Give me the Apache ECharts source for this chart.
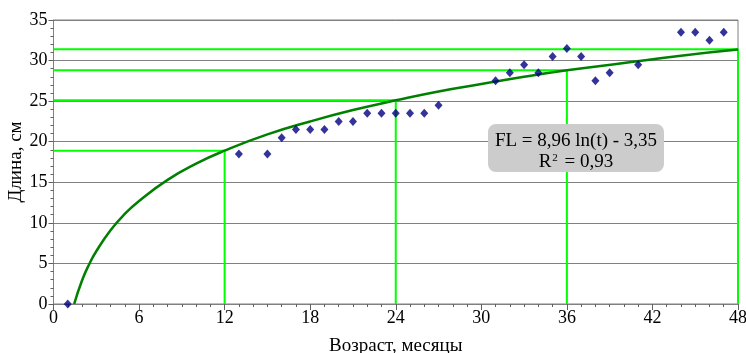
<!DOCTYPE html>
<html><head><meta charset="utf-8">
<script src="https://cdn.jsdelivr.net/npm/echarts@6/dist/echarts.min.js"></script>
<style>html,body{margin:0;padding:0;background:#fff}#c{width:746px;height:353px}</style>
</head><body><div id="c"></div>
<script>
// Observed data (age in months, length in cm)
const ageMonths = [1, 13, 15, 16, 17, 18, 19, 20, 21, 22, 23, 24, 25, 26, 27, 31, 32, 33, 34, 35, 36, 37, 38, 39, 41, 44, 45, 46, 47];
const lengthCm  = [0, 18.5, 18.5, 20.5, 21.5, 21.5, 21.5, 22.5, 22.5, 23.5, 23.5, 23.5, 23.5, 23.5, 24.5, 27.5, 28.5, 29.5, 28.5, 30.5, 31.5, 30.5, 27.5, 28.5, 29.5, 33.5, 33.5, 32.5, 33.5];
// Logarithmic trend line
const trendT  = [1.45, 2, 2.5, 3, 4, 5, 6, 8, 10, 12, 15, 18, 21, 24, 27, 30, 33, 36, 40, 44, 48];
const trendFL = [0, 2.9, 4.9, 6.5, 9.1, 11.1, 12.7, 15.3, 17.3, 18.9, 20.9, 22.5, 23.9, 25.1, 26.2, 27.1, 28.0, 28.8, 29.7, 30.6, 31.35];
// Guide lines (age, trend length)
const guideT  = [12, 24, 36, 48];
const guideFL = [18.9, 25.1, 28.8, 31.4];
const equationText = 'FL = 8,96 ln(t) - 3,35';
const r2Text = '0,93';

const font = '"Liberation Serif", "Times New Roman", serif';
const guideData = [];
guideT.forEach((t, i) => {
  guideData.push([0, guideFL[i]], [t, guideFL[i]], [t, 0], '-');
});

const chart = echarts.init(document.getElementById('c'), null, {renderer: 'canvas'});
chart.setOption({
  animation: false,
  backgroundColor: '#fff',
  grid: {left: 53.5, right: 8, top: 20, bottom: 49, outerBoundsMode: 'none', containLabel: false,
         show: true, borderColor: '#808080', borderWidth: 1, backgroundColor: 'transparent'},
  xAxis: {
    type: 'value', min: 0, max: 48, interval: 6,
    name: 'Возраст, месяцы', nameLocation: 'middle', nameGap: 33, nameMoveOverlap: false,
    nameTextStyle: {fontFamily: font, fontSize: 19, color: '#000'},
    axisLine: {show: true, onZero: false, lineStyle: {color: '#808080', width: 1}},
    axisTick: {show: true, length: 6, lineStyle: {color: '#606060'}},
    minorTick: {show: true, splitNumber: 6, length: 3, lineStyle: {color: '#606060'}},
    axisLabel: {fontFamily: font, fontSize: 18, color: '#000', margin: 5},
    splitLine: {show: false}
  },
  yAxis: {
    type: 'value', min: 0, max: 35, interval: 5,
    name: 'Длина, см', nameLocation: 'middle', nameGap: 28, nameRotate: 90, nameMoveOverlap: false,
    nameTextStyle: {fontFamily: font, fontSize: 19, color: '#000'},
    axisLine: {show: true, onZero: false, lineStyle: {color: '#808080', width: 1}},
    axisTick: {show: true, length: 5, lineStyle: {color: '#606060'}},
    minorTick: {show: true, splitNumber: 5, length: 3, lineStyle: {color: '#606060'}},
    axisLabel: {fontFamily: font, fontSize: 18, color: '#000', margin: 6},
    splitLine: {show: true, lineStyle: {color: '#808080', width: 1}}
  },
  series: [
    {
      type: 'line', data: guideData, connectNulls: false, symbol: 'none',
      lineStyle: {color: '#00ff00', width: 2}, z: 2, silent: true
    },
    {
      type: 'line', data: trendT.map((t, i) => [t, trendFL[i]]), smooth: true, symbol: 'none',
      lineStyle: {color: '#008000', width: 2.5}, z: 3, silent: true
    },
    {
      type: 'scatter', data: ageMonths.map((t, i) => [t, lengthCm[i]]),
      symbol: 'diamond', symbolSize: [8, 9], itemStyle: {color: '#000080'}, z: 4
    }
  ],
  graphic: [
    {type: 'rect', zlevel: 1, z: 100, shape: {x: 488, y: 124, width: 176, height: 48, r: 8}, style: {fill: '#cccccc'}},
    {type: 'text', zlevel: 1, z: 101, x: 576, y: 141,
     style: {text: equationText, fontFamily: font, fontSize: 19, fill: '#000', align: 'center', verticalAlign: 'middle'}},
    {type: 'text', zlevel: 1, z: 101, x: 576, y: 162,
     style: {
       text: '{b|R}{s|2}{b| = ' + r2Text + '}', align: 'center', verticalAlign: 'middle',
       rich: {
         b: {fontFamily: font, fontSize: 19, fill: '#000'},
         s: {fontFamily: font, fontSize: 11, fill: '#000', verticalAlign: 'top', padding: [0, 2, 0, 1]}
       }
     }}
  ]
});
</script></body></html>
